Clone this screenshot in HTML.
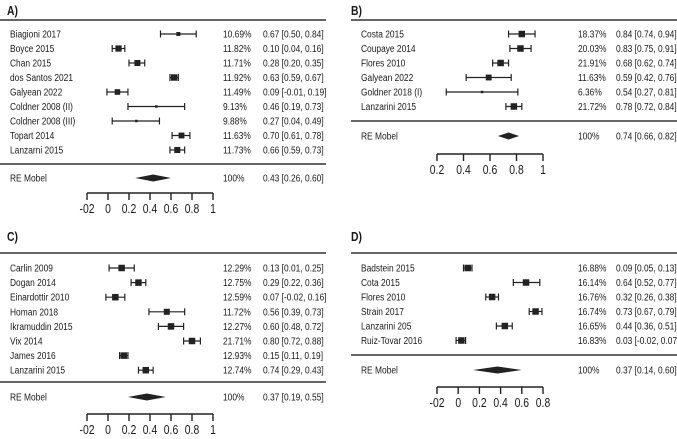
<!DOCTYPE html>
<html><head><meta charset="utf-8"><style>
html,body{margin:0;padding:0;background:#fff;}
svg{display:block;font-family:"Liberation Sans Narrow","Liberation Sans",sans-serif;}
</style></head><body>
<svg id="chart" width="677" height="439"></svg>
<script>
// Panel A
const aStudies=["Biagioni 2017","Boyce 2015","Chan 2015","dos Santos 2021","Galyean 2022","Coldner 2008 (II)","Coldner 2008 (III)","Topart 2014","Lanzarni 2015"];
const aWeights=[10.69,11.82,11.71,11.92,11.49,9.13,9.88,11.63,11.73];
const aEst=[0.67,0.10,0.28,0.63,0.09,0.46,0.27,0.70,0.66];
const aLo=[0.50,0.04,0.20,0.59,-0.01,0.19,0.04,0.61,0.59];
const aHi=[0.84,0.16,0.35,0.67,0.19,0.73,0.49,0.78,0.73];
const aPooled=[0.43,0.26,0.60];
const aTicks=["-02","0","0.2","0.4","0.6","0.8","1"];
const aTickVals=[-0.2,0,0.2,0.4,0.6,0.8,1];
// Panel B
const bStudies=["Costa 2015","Coupaye 2014","Flores 2010","Galyean 2022","Goldner 2018 (I)","Lanzarini 2015"];
const bWeights=[18.37,20.03,21.91,11.63,6.36,21.72];
const bEst=[0.84,0.83,0.68,0.59,0.54,0.78];
const bLo=[0.74,0.75,0.62,0.42,0.27,0.72];
const bHi=[0.94,0.91,0.74,0.76,0.81,0.84];
const bPooled=[0.74,0.66,0.82];
const bTicks=["0.2","0.4","0.6","0.8","1"];
const bTickVals=[0.2,0.4,0.6,0.8,1];
// Panel C
const cStudies=["Carlin 2009","Dogan 2014","Einardottir 2010","Homan 2018","Ikramuddin 2015","Vix 2014","James 2016","Lanzarini 2015"];
const cWeights=[12.29,12.75,12.59,11.72,12.27,21.71,12.93,12.74];
const cEst=[0.13,0.29,0.07,0.56,0.60,0.80,0.15,0.36];
const cLo=[0.01,0.22,-0.02,0.39,0.48,0.72,0.11,0.29];
const cHi=[0.25,0.36,0.16,0.73,0.72,0.88,0.19,0.43];
const cEstText=["0.13","0.29","0.07","0.56","0.60","0.80","0.15","0.74"];
const cPooled=[0.37,0.19,0.55];
// Panel D
const dStudies=["Badstein 2015","Cota 2015","Flores 2010","Strain 2017","Lanzarini 205","Ruiz-Tovar 2016"];
const dWeights=[16.88,16.14,16.76,16.74,16.65,16.83];
const dEst=[0.09,0.64,0.32,0.73,0.44,0.03];
const dLo=[0.05,0.52,0.26,0.67,0.36,-0.02];
const dHi=[0.13,0.77,0.38,0.79,0.51,0.07];
const dPooled=[0.37,0.14,0.60];
const dTicks=["-02","0","0.2","0.4","0.6","0.8"];
const dTickVals=[-0.2,0,0.2,0.4,0.6,0.8];

const svg=document.getElementById('chart');
const NS='http://www.w3.org/2000/svg';
function mk(tag,attrs,parent){const e=document.createElementNS(NS,tag);for(const k in attrs)e.setAttribute(k,attrs[k]);(parent||svg).appendChild(e);return e;}
function txt(x,y,s,parent,size,weight,anchor){
  const t=mk('text',{x:0,y:0,transform:`translate(${x},${y}) scale(0.8,1)`,'font-size':size||10.5,'fill':'#1a1a1a','font-weight':weight||'normal'},parent);
  if(anchor)t.setAttribute('text-anchor',anchor);
  t.textContent=s;return t;}
function f2(v){return (v<0?'-':'')+Math.abs(v).toFixed(2);}

function panel(p){
  const g=mk('g',{});
  
  
  const x=v=>p.x0+(v-p.v0)*(p.x1-p.x0)/(p.v1-p.v0);
  const title=txt(p.tx,p.ty,p.label,g,13,'bold');
  
  
  mk('line',{x1:p.rl,x2:p.rr,y1:p.rule1,y2:p.rule1,stroke:'#333','stroke-width':1.5},g);
  mk('line',{x1:p.rl,x2:p.rr,y1:p.rule2,y2:p.rule2,stroke:'#333','stroke-width':1.5},g);
  p.studies.forEach((s,i)=>{
    const y=p.row0+i*p.dy;
    const rg=mk('g',{},g);
    
    
    txt(p.lx,y+3.5,s,rg);
    mk('line',{x1:x(p.lo[i]),x2:x(p.hi[i]),y1:y,y2:y,stroke:'#222','stroke-width':1.2},rg);
    mk('line',{x1:x(p.lo[i]),x2:x(p.lo[i]),y1:y-3.5,y2:y+3.5,stroke:'#222','stroke-width':1.2},rg);
    mk('line',{x1:x(p.hi[i]),x2:x(p.hi[i]),y1:y-3.5,y2:y+3.5,stroke:'#222','stroke-width':1.2},rg);
    const sz=Math.max(2.5,Math.min(6.5,(p.w[i]-8.7)*2));
    const sq=mk('rect',{x:x(p.est[i])-sz/2,y:y-sz/2,width:sz,height:sz,fill:'#222'},rg);
    
    
    txt(p.px,y+3.5,p.w[i].toFixed(2)+'%',rg);
    const et=p.estText?p.estText[i]:f2(p.est[i]);
    txt(p.cx,y+3.5,et+' ['+f2(p.lo[i])+', '+f2(p.hi[i])+']',rg);
  });
  const ry=p.reY;
  txt(p.lx,ry+3.5,'RE Mobel',g);
  const d=mk('polygon',{points:`${x(p.pooled[1])},${ry} ${x(p.pooled[0])},${ry-3.5} ${x(p.pooled[2])},${ry} ${x(p.pooled[0])},${ry+3.5}`,fill:'#222'},g);
  
  
  txt(p.px,ry+3.5,'100%',g);
  txt(p.cx,ry+3.5,f2(p.pooled[0])+' ['+f2(p.pooled[1])+', '+f2(p.pooled[2])+']',g);
  const ax=mk('g',{},g);
  
  
  const tv=p.tickVals;
  mk('line',{x1:x(tv[0]),x2:x(tv[tv.length-1]),y1:p.axY,y2:p.axY,stroke:'#222','stroke-width':1.4},ax);
  tv.forEach((v,i)=>{
    mk('line',{x1:x(v),x2:x(v),y1:p.axY,y2:p.axY+7,stroke:'#222','stroke-width':1.4},ax);
    txt(x(v),p.axY+20,p.ticks[i],ax,13,'normal','middle');
  });
}
panel({key:'a',label:'A)',tx:7,ty:15,rl:0,rr:326,rule1:20,rule2:164,row0:34,dy:14.5,reY:178,axY:193,
  x0:87,x1:213,v0:-0.2,v1:1,lx:10,px:223,cx:263,studies:aStudies,w:aWeights,est:aEst,lo:aLo,hi:aHi,pooled:aPooled,ticks:aTicks,tickVals:aTickVals});
panel({key:'b',label:'B)',tx:351,ty:15,rl:351,rr:677,rule1:20,rule2:121,row0:34,dy:14.5,reY:136,axY:154,
  x0:437,x1:543,v0:0.2,v1:1,lx:361,px:578,cx:616,studies:bStudies,w:bWeights,est:bEst,lo:bLo,hi:bHi,pooled:bPooled,ticks:bTicks,tickVals:bTickVals});
panel({key:'c',label:'C)',tx:7,ty:241,rl:0,rr:326,rule1:253,rule2:382,row0:268,dy:14.6,reY:397,axY:414,
  x0:87,x1:213,v0:-0.2,v1:1,lx:10,px:223,cx:263,studies:cStudies,w:cWeights,est:cEst,lo:cLo,hi:cHi,estText:cEstText,pooled:cPooled,ticks:aTicks,tickVals:aTickVals});
panel({key:'d',label:'D)',tx:351,ty:241,rl:351,rr:677,rule1:253,rule2:355,row0:268,dy:14.5,reY:370,axY:387,
  x0:437,x1:543,v0:-0.2,v1:0.8,lx:361,px:578,cx:616,studies:dStudies,w:dWeights,est:dEst,lo:dLo,hi:dHi,pooled:dPooled,ticks:dTicks,tickVals:dTickVals});
</script>
</body></html>
